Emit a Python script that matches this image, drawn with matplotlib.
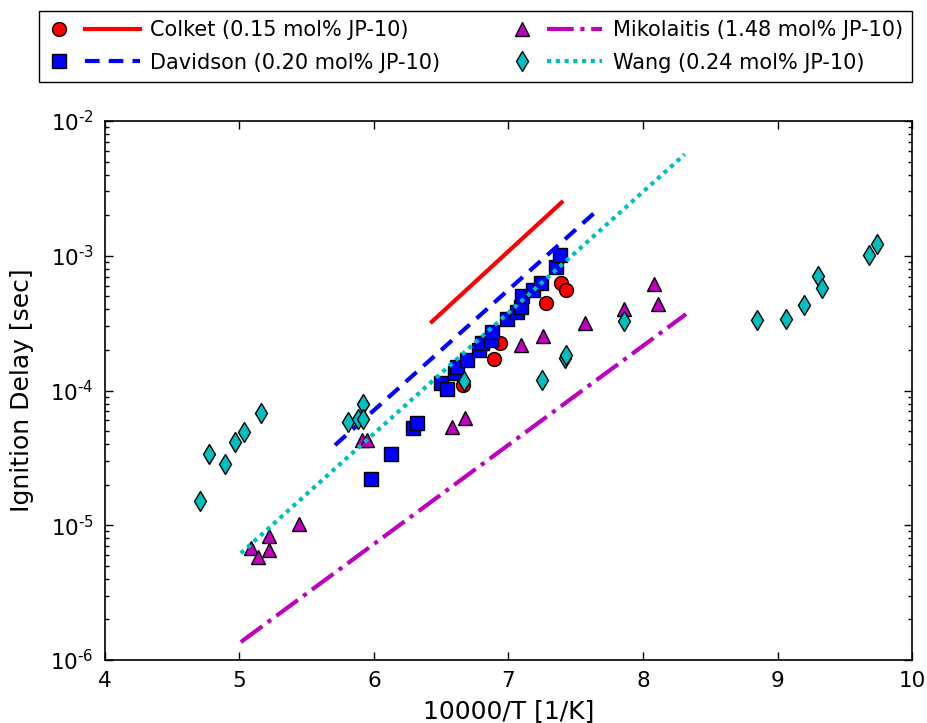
import math

import matplotlib
matplotlib.use("Agg")
import matplotlib.pyplot as plt
from matplotlib.lines import Line2D
from matplotlib.legend_handler import HandlerBase
from matplotlib.ticker import FuncFormatter, LogLocator, NullFormatter

# Shock tube ignition delay data for JP-10 (x = 10000/T)
colket_x = [6.66, 6.89, 6.94, 7.28, 7.39, 7.43]
colket_y = [1.1e-4, 1.7e-4, 2.26e-4, 4.43e-4, 6.3e-4, 5.56e-4]

davidson_x = [5.975, 6.13, 6.29, 6.32, 6.50, 6.54, 6.60, 6.62, 6.69, 6.78, 6.80,
              6.87, 6.88, 6.99, 7.06, 7.09, 7.10, 7.18, 7.24, 7.35, 7.38]
davidson_y = [2.2e-5, 3.4e-5, 5.3e-5, 5.75e-5, 1.14e-4, 1.02e-4, 1.35e-4, 1.5e-4, 1.68e-4,
              2.0e-4, 2.26e-4, 2.37e-4, 2.73e-4, 3.4e-4, 3.8e-4, 4.2e-4, 5.0e-4, 5.6e-4,
              6.3e-4, 8.2e-4, 1.01e-3]

mikolaitis_x = [5.085, 5.135, 5.22, 5.22, 5.44, 5.91, 5.95, 6.58, 6.68, 7.09, 7.26,
                7.57, 7.86, 8.08, 8.11]
mikolaitis_y = [6.8e-6, 5.8e-6, 8.3e-6, 6.6e-6, 1.03e-5, 4.3e-5, 4.3e-5, 5.4e-5, 6.3e-5,
                2.16e-4, 2.54e-4, 3.18e-4, 4.0e-4, 6.2e-4, 4.4e-4]

wang_x = [4.706, 4.77, 4.89, 4.97, 5.03, 5.16, 5.81, 5.88, 5.92, 5.92, 6.67, 7.25,
          7.42, 7.43, 7.86, 8.85, 9.06, 9.20, 9.30, 9.33, 9.68, 9.74]
wang_y = [1.52e-5, 3.37e-5, 2.84e-5, 4.12e-5, 4.89e-5, 6.76e-5, 5.8e-5, 6.1e-5, 7.9e-5,
          6.2e-5, 1.18e-4, 1.19e-4, 1.73e-4, 1.83e-4, 3.29e-4, 3.33e-4, 3.39e-4, 4.31e-4,
          7.1e-4, 5.73e-4, 1.02e-3, 1.22e-3]

# Arrhenius fits (end points)
colket_fit_x = [6.43, 7.395]
colket_fit_y = [3.24e-4, 2.49e-3]
davidson_fit_x = [5.71, 7.67]
davidson_fit_y = [3.93e-5, 2.22e-3]
mikolaitis_fit_x = [5.01, 8.32]
mikolaitis_fit_y = [1.36e-6, 3.69e-4]
wang_fit_x = [5.01, 8.31]
wang_fit_y = [6.2e-6, 5.66e-3]

labels = ["Colket (0.15 mol% JP-10)", "Davidson (0.20 mol% JP-10)",
          "Mikolaitis (1.48 mol% JP-10)", "Wang (0.24 mol% JP-10)"]


class MarkerThenLine(HandlerBase):
    # legend handle: marker on the left, line segment on the right
    def create_artists(self, legend, orig_handle, xdescent, ydescent,
                       width, height, fontsize, trans):
        mk, ln = orig_handle
        y = height / 2 - ydescent
        x0 = -xdescent
        m = Line2D([x0 + 0.12 * width], [y])
        m.update_from(mk)
        m.set_linestyle("none")
        l = Line2D([x0 + 0.40 * width, x0 + width], [y, y])
        l.update_from(ln)
        l.set_marker("")
        for a in (m, l):
            a.set_transform(trans)
            a.set_clip_on(False)
            a.set_clip_box(None)
        return [m, l]


fig = plt.figure(figsize=(9.28, 7.23), dpi=100)
ax = fig.add_axes([0.1131, 0.0871, 0.8697, 0.7455])

mk = dict(markersize=10, markeredgecolor="black", markeredgewidth=1, linestyle="none")
lw = 3

p1, = ax.plot(colket_x, colket_y, marker="o", color="red", **mk)
l1, = ax.plot(colket_fit_x, colket_fit_y, "-", color="red", lw=lw)
p2, = ax.plot(davidson_x, davidson_y, marker="s", color="blue", **mk)
l2, = ax.plot(davidson_fit_x, davidson_fit_y, color="blue", lw=lw, dashes=(3.5, 2.2))
p3, = ax.plot(mikolaitis_x, mikolaitis_y, marker="^", color=(0.75, 0, 0.75), **mk)
l3, = ax.plot(mikolaitis_fit_x, mikolaitis_fit_y, "-.", color=(0.75, 0, 0.75), lw=lw)
p4, = ax.plot(wang_x, wang_y, marker="d", color=(0, 0.75, 0.75), **mk)
l4, = ax.plot(wang_fit_x, wang_fit_y, color=(0, 0.75, 0.75), lw=lw, dashes=(1, 1.1))

ax.set_yscale("log")
ax.set_xlim(4, 10)
ax.set_ylim(1e-6, 1e-2)

ax.yaxis.set_major_locator(LogLocator(base=10))
ax.yaxis.set_minor_locator(LogLocator(base=10, subs=range(2, 10)))
ax.yaxis.set_minor_formatter(NullFormatter())
ax.yaxis.set_major_formatter(FuncFormatter(
    lambda v, pos: r"$10^{\text{-}%d}$" % round(-math.log10(v))))

ax.tick_params(which="both", direction="in", top=True, right=True, labelsize=15.5)
ax.tick_params(which="major", length=6, width=1, pad=8)
ax.tick_params(which="minor", length=3, width=1)
for s in ax.spines.values():
    s.set_linewidth(1.2)

ax.set_xlabel("10000/T [1/K]", fontsize=18, labelpad=6)
ax.set_ylabel("Ignition Delay [sec]", fontsize=18, labelpad=12)

fig.legend([(p1, l1), (p2, l2), (p3, l3), (p4, l4)], labels,
           handler_map={tuple: MarkerThenLine()},
           loc="upper left", bbox_to_anchor=(0.042, 0.985, 0.941, 0.0),
           mode="expand", borderaxespad=0, ncol=2, fontsize=15, handlelength=4.4,
           handletextpad=0.5, labelspacing=0.6, borderpad=0.45,
           frameon=True, fancybox=False, edgecolor="black", framealpha=1)

fig.savefig("out.png", dpi=100, facecolor="white")
